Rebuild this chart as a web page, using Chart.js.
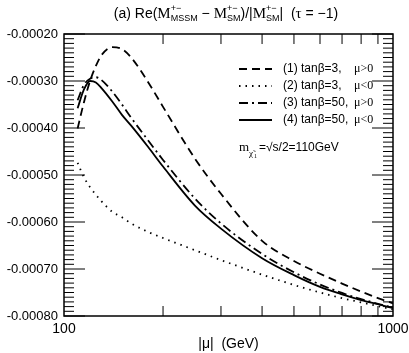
<!DOCTYPE html>
<html>
<head>
<meta charset="utf-8">
<script src="https://cdn.jsdelivr.net/npm/chart.js@4.4.1/dist/chart.umd.min.js"></script>
<style>
  body {margin: 0; background: #fff;}
  #wrap {width: 409px; height: 353px;}
</style>
</head>
<body>
<div id="wrap"><canvas id="myChart" width="409" height="353"></canvas></div>
<script>
// |mu| values (GeV)
const mu = [110, 115, 120, 125, 130, 140, 150, 160, 180, 200, 250, 300, 400, 500, 600, 700, 800, 900, 1000];
// (1) tanb=3, mu>0
const curve1 = [-0.000401, -0.000345, -0.000300, -0.000268, -0.000245, -0.000228, -0.000232, -0.000250, -0.000302, -0.000355,
  -0.000465, -0.000540, -0.000640, -0.000683, -0.000710, -0.000731, -0.000748, -0.000762, -0.000773];
// (2) tanb=3, mu<0
const curve2 = [-0.000474, -0.000505, -0.000526, -0.000542, -0.000556, -0.000578, -0.000590, -0.000603, -0.000621, -0.000634,
  -0.000660, -0.000681, -0.000712, -0.000734, -0.000750, -0.000762, -0.000771, -0.000779, -0.000786];
// (3) tanb=50, mu>0
const curve3 = [-0.000341, -0.000308, -0.000295, -0.000292, -0.000298, -0.000322, -0.000350, -0.000378, -0.000426, -0.000468,
  -0.000550, -0.000603, -0.000668, -0.000707, -0.000733, -0.000751, -0.000764, -0.000774, -0.000782];
// (4) tanb=50, mu<0
const curve4 = [-0.000358, -0.000318, -0.000300, -0.000303, -0.000315, -0.000343, -0.000372, -0.000395, -0.000440, -0.000482,
  -0.000565, -0.000614, -0.000677, -0.000713, -0.000738, -0.000754, -0.000766, -0.000775, -0.000783];

const yTicks = [-0.0008, -0.0007, -0.0006, -0.0005, -0.0004, -0.0003, -0.0002];
const xLabels = [100, 1000];
const xMajor = [200, 300, 400, 500, 600, 700, 800, 900];

const legendText = ['(1) tan\u03b2=3,', '(2) tan\u03b2=3,', '(3) tan\u03b2=50,', '(4) tan\u03b2=50,'];
const legendSign = ['\u03bc>0', '\u03bc<0', '\u03bc>0', '\u03bc<0'];
const dashes = [[8, 5], [1.5, 5], [9, 4, 2, 4], []];

function pts(arr) {
  return mu.map(function (m, i) { return {x: m, y: arr[i]}; });
}

var sans = "'Liberation Sans', Arial, sans-serif";
var serif = "'Liberation Serif', 'Times New Roman', serif";

function dset(arr, k) {
  return {
    data: pts(arr),
    borderColor: '#000',
    borderWidth: 1.8,
    borderDash: dashes[k],
    pointRadius: 0,
    fill: false,
    cubicInterpolationMode: 'monotone'
  };
}

// draw a run of text pieces, some with super/subscripts
function drawRuns(ctx, runs, cx, y) {
  var w = 0;
  runs.forEach(function (r) {
    ctx.font = r.font;
    r.w = ctx.measureText(r.t).width;
    var extra = 0;
    if (r.sup) { ctx.font = r.small; extra = Math.max(extra, ctx.measureText(r.sup).width); }
    if (r.sub) { ctx.font = r.small; extra = Math.max(extra, ctx.measureText(r.sub).width); }
    r.e = extra;
    w += r.w + extra;
  });
  var x = cx - w / 2;
  ctx.textBaseline = 'alphabetic';
  ctx.textAlign = 'left';
  runs.forEach(function (r) {
    ctx.font = r.font;
    ctx.fillText(r.t, x, y);
    x += r.w;
    if (r.sup) { ctx.font = r.small; ctx.fillText(r.sup, x, y - 7); }
    if (r.sub) { ctx.font = r.small; ctx.fillText(r.sub, x, y + 3); }
    x += r.e;
  });
}

const decor = {
  id: 'decor',
  afterDraw: function (chart) {
    var ctx = chart.ctx;
    var a = chart.chartArea;
    var xs = chart.scales.x, ys = chart.scales.y;
    ctx.save();
    ctx.strokeStyle = '#000';
    ctx.fillStyle = '#000';

    // frame
    ctx.lineWidth = 1.5;
    ctx.strokeRect(a.left, a.top, a.right - a.left, a.bottom - a.top);

    // y ticks, minor every 0.00001
    ctx.lineWidth = 1;
    for (var i = 0; i <= 60; i++) {
      var v = -0.0008 + i * 0.00001;
      var py = ys.getPixelForValue(v);
      var len = (i % 10 == 0) ? 21 : 10;
      ctx.beginPath();
      ctx.moveTo(a.left, py); ctx.lineTo(a.left + len, py);
      ctx.moveTo(a.right, py); ctx.lineTo(a.right - len, py);
      ctx.stroke();
    }
    // x ticks
    xMajor.forEach(function (m) {
      var px = xs.getPixelForValue(m);
      ctx.beginPath();
      ctx.moveTo(px, a.bottom); ctx.lineTo(px, a.bottom - 10);
      ctx.moveTo(px, a.top); ctx.lineTo(px, a.top + 10);
      ctx.stroke();
    });

    // title
    var big = '14px ' + sans, sm = '9px ' + sans, mf = '15px ' + serif;
    drawRuns(ctx, [
      {t: '(a) Re(', font: big},
      {t: 'M', font: mf, sup: '+\u2212', sub: 'MSSM', small: sm},
      {t: ' \u2212 ', font: big},
      {t: 'M', font: mf, sup: '+\u2212', sub: 'SM', small: sm},
      {t: ')/|', font: big},
      {t: 'M', font: mf, sup: '+\u2212', sub: 'SM', small: sm},
      {t: '|  (', font: big},
      {t: '\u03c4', font: mf},
      {t: ' = \u22121)', font: big}
    ], 226, 18);

    // legend
    ctx.textBaseline = 'middle';
    for (var k = 0; k < 4; k++) {
      var ly = 69 + k * 17;
      ctx.lineWidth = 1.8;
      ctx.setLineDash(dashes[k]);
      ctx.beginPath();
      ctx.moveTo(239, ly); ctx.lineTo(272, ly);
      ctx.stroke();
      ctx.setLineDash([]);
      ctx.font = '12px ' + sans;
      ctx.fillText(legendText[k], 283, ly);
      ctx.font = '12px ' + serif;
      ctx.fillText(legendSign[k], 354, ly);
    }
    // chargino mass note
    ctx.textBaseline = 'alphabetic';
    ctx.font = '13px ' + serif;
    ctx.fillText('m', 239, 151);
    ctx.font = '9px ' + serif;
    ctx.fillText('\u03c7\u0303', 249, 156);
    ctx.font = '6px ' + serif;
    ctx.fillText('1', 254, 158);
    ctx.font = '12px ' + sans;
    ctx.fillText('=\u221as/2=110GeV', 259, 151);
    ctx.restore();
  }
};

Chart.defaults.font.family = sans;
Chart.defaults.color = '#000';

const ctx = document.getElementById('myChart').getContext('2d');
var myChart = new Chart(ctx, {
  type: 'line',
  data: {
    datasets: [dset(curve1, 0), dset(curve2, 1), dset(curve3, 2), dset(curve4, 3)]
  },
  options: {
    responsive: false,
    animation: false,
    layout: {padding: {left: 0, right: 16, top: 34, bottom: 0}},
    plugins: {legend: {display: false}, tooltip: {enabled: false}},
    scales: {
      x: {
        type: 'logarithmic',
        min: 100, max: 1000,
        grid: {display: false, drawTicks: false},
        border: {display: false},
        ticks: {
          autoSkip: false, maxRotation: 0, padding: 5,
          font: {size: 14},
          callback: function (v) { return xLabels.indexOf(v) >= 0 ? String(v) : ''; }
        },
        title: {display: true, text: '|\u03bc|  (GeV)', font: {size: 14}, padding: {top: 0, bottom: 0}},
        afterFit: function (s) { s.height = 37; s.paddingLeft = 0; s.paddingRight = 0; }
      },
      y: {
        min: -0.0008, max: -0.0002,
        grid: {display: false, drawTicks: false},
        border: {display: false},
        afterBuildTicks: function (s) { s.ticks = yTicks.map(function (v) { return {value: v}; }); },
        ticks: {
          padding: 6,
          font: {size: 13},
          callback: function (v) { return v.toFixed(5); }
        },
        afterFit: function (s) { s.width = 64; s.paddingTop = 0; s.paddingBottom = 0; }
      }
    }
  },
  plugins: [decor]
});
</script>
</body>
</html>
